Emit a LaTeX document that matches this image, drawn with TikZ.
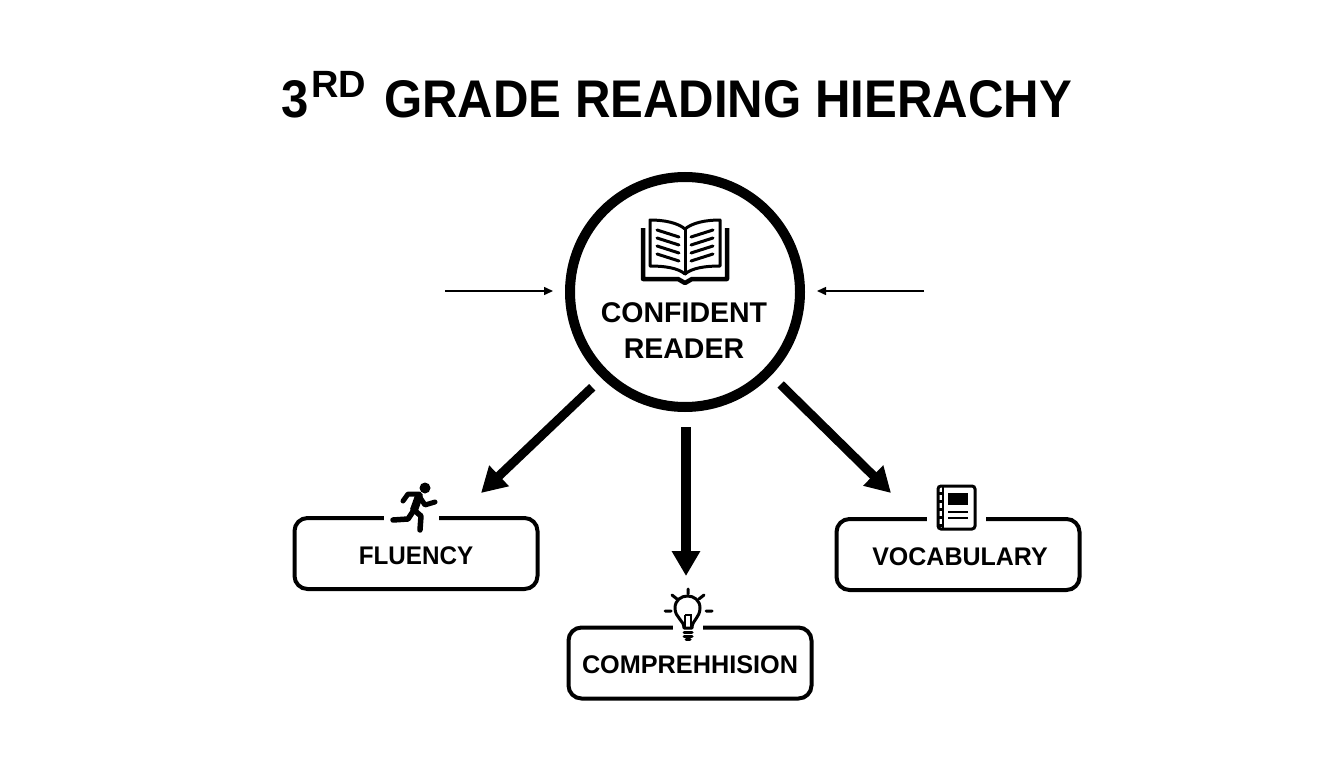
\documentclass[tikz,border=0pt]{standalone}
\usepackage{fontspec}
\setmainfont{Liberation Sans}
\usepackage{tikz}
\usetikzlibrary{arrows.meta,positioning}
\newcommand{\pxfont}[1]{\fontsize{#1}{#1}\selectfont\bfseries}
\tikzset{
  readercircle/.style={circle,draw=black,line width=10pt,fill=white,minimum size=230pt,inner sep=0pt},
  skillbox/.style={rectangle,rounded corners=13pt,draw=black,line width=4pt,fill=white,minimum width=243pt,minimum height=71pt,inner sep=0pt},
  skilltext/.style={font=\pxfont{25.5}},
  icongap/.style={rectangle,fill=white,minimum height=10pt,inner sep=0pt},
  bigarrow/.style={line width=9pt,-{Triangle[length=25pt,width=27pt]}},
  thinarrow/.style={line width=1.5pt,-{Triangle[length=9pt,width=8pt]}},
  iconline/.style={line width=3pt,line cap=round,line join=round}
}
\begin{document}
\begin{tikzpicture}[x=1pt,y=-1pt]
\useasboundingbox (0,0) rectangle (1344,768);
\node[font=\pxfont{53},xscale=0.927] (title) at (728,99) {GRADE READING HIERACHY};
\node[font=\pxfont{53},anchor=east,xscale=0.927] (three) at (312,99) {3};
\node[font=\pxfont{38},anchor=west] (rd) at (308,84) {RD};
\node[readercircle] (reader) at (685,292) {};
\node[font=\pxfont{28.5}] (readertext) at (684,335) {\begin{tabular}{@{}c@{}}CONFIDENT\\[7pt]READER\end{tabular}};
\node[skillbox] (fluency) at (416,553.5) {};
\node[skillbox] (comprehension) at (690,663) {};
\node[skillbox] (vocabulary) at (958,554.5) {};
\node[skilltext,xscale=0.95] at ([yshift=-2pt]fluency) {FLUENCY};
\node[skilltext,xscale=0.99] at ([yshift=-2pt]comprehension) {COMPREHHISION};
\node[skilltext,xscale=0.98] at ([xshift=2pt,yshift=-2pt]vocabulary) {VOCABULARY};
\node[icongap,minimum width=55pt] (fluencyicon) at (411,517.5) {};
\node[icongap,minimum width=30pt] (comprehensionicon) at (688,626.5) {};
\node[icongap,minimum width=59pt] (vocabularyicon) at (956.5,518) {};
\coordinate (lefttail) at (445,291);
\coordinate (leftend) at (553,291);
\coordinate (righttail) at (924,291);
\coordinate (rightend) at (817,291);
\coordinate (fluencytip) at (481,493);
\coordinate (comprehensiontip) at (686,576);
\coordinate (vocabularytip) at (891,493);
\draw[thinarrow] (lefttail) -- (leftend);
\draw[thinarrow] (righttail) -- (rightend);
\draw[bigarrow,shorten <=13pt] (reader.226) -- (fluencytip);
\draw[bigarrow,line width=10pt,shorten <=15pt] (reader.south) ++(1,0) -- (comprehensiontip);
\draw[bigarrow,shorten <=13pt] (reader.316) -- (vocabularytip);
% open book
\draw[line width=4.5pt,line join=round] (643,228) -- (643,279) -- (678,279) -- (685,283) -- (692,279) -- (727,279) -- (727,228);
\draw[iconline,fill=white] (650,220) .. controls (665,220) and (678,223) .. (685,229) .. controls (692,223) and (705,220) .. (720,220) -- (720,266) .. controls (705,266) and (692,268) .. (685,274) .. controls (678,268) and (665,266) .. (650,266) -- cycle;
\draw[iconline] (685,229) -- (685,274);
\foreach \dy in {0,8,16,24} {
  \draw[iconline] (657,230+\dy) -- (679,237+\dy);
  \draw[iconline] (713,230+\dy) -- (691,237+\dy);
}
% runner
\fill (425,488) circle (5.5pt);
\draw[line width=8pt,line join=round,line cap=round] (419,496) -- (414,510);
\draw[line width=5pt,line join=round,line cap=round] (419,494) -- (408,494) -- (403,501);
\draw[line width=5pt,line join=round,line cap=round] (419,496) -- (425,505) -- (435,502);
\draw[line width=5.5pt,line join=round,line cap=round] (414,510) -- (408,519) -- (393,520);
\draw[line width=5.5pt,line join=round,line cap=round] (414,510) -- (421,516) -- (420,530);
% light bulb
\draw[iconline] (684,628) .. controls (684,620) and (675,618) .. (675,608) .. controls (675,592) and (700,592) .. (700,608) .. controls (700,618) and (692,620) .. (692,628) -- cycle;
\draw[line width=2.5pt] (685,615) -- (691,615) -- (691,628) (685,615) -- (685,628);
\draw[iconline] (684,632) -- (692,632) (684,636) -- (692,636) (686,639) -- (690,639);
\draw[iconline] (688,589) -- (688,594) (672,595) -- (677,599) (704,595) -- (699,599) (665,611) -- (671,611) (706,611) -- (712,611);
% notebook
\draw[line width=3pt,rounded corners=3pt] (938,486) rectangle (975,529);
\draw[line width=2.5pt] (943,486) -- (943,529);
\foreach \dy in {492,500,508,516,524} {
  \fill (937,\dy) rectangle (943,\dy+2.5);
}
\fill (948,493) rectangle (968,505);
\draw[line width=2.5pt] (948,512) -- (968,512) (948,518) -- (968,518);
\end{tikzpicture}
\end{document}
